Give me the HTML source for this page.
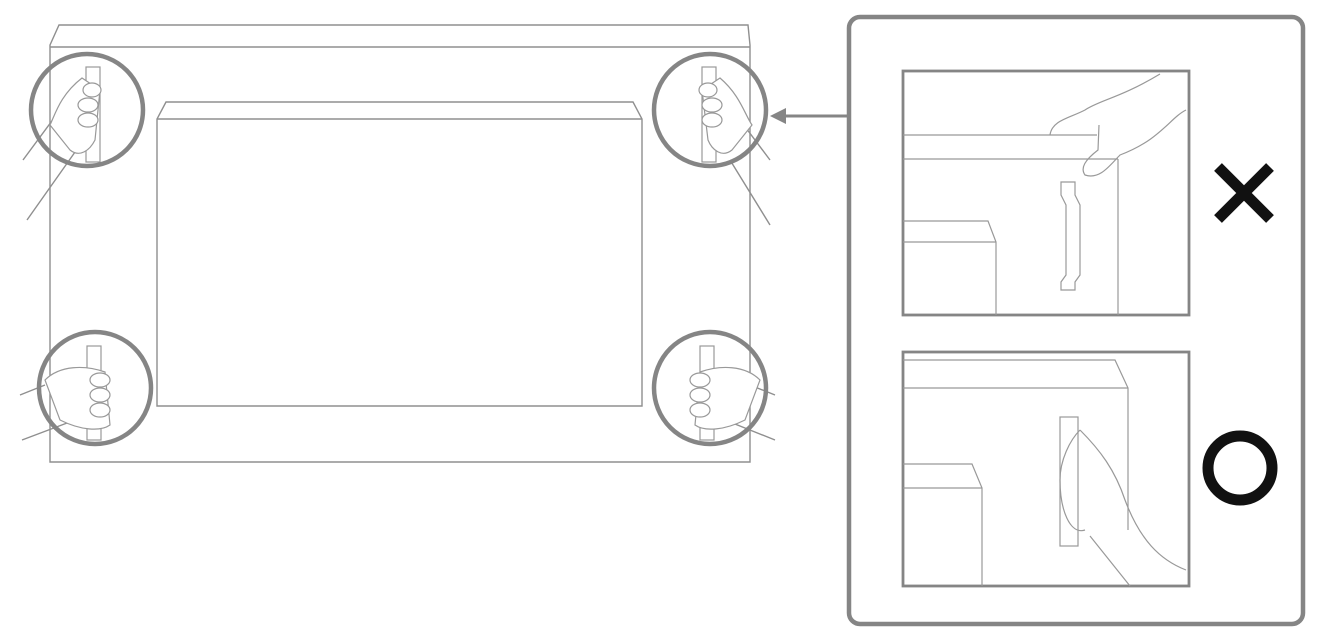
<!DOCTYPE html>
<html><head><meta charset="utf-8"><style>
html,body{margin:0;padding:0;background:#fff;width:1320px;height:640px;overflow:hidden}
</style></head><body>
<svg width="1320" height="640" viewBox="0 0 1320 640" xmlns="http://www.w3.org/2000/svg">
<g fill="none" stroke="#8f8f8f" stroke-width="1.4">
 <path d="M50,462 V45 L59,25 H748 L750,45 V462 Z"/>
 <path d="M50,47 H750"/>
 <path d="M157,406 V119 L166,102 H633 L642,119 V406 Z"/>
 <path d="M157,119 H642"/>
 <path d="M23,160 L60,110 M27,220 L80,145"/>
 <path d="M770,160 L740,120 M770,225 L730,160"/>
 <path d="M20,395 L45,385 M22,440 L75,420"/>
 <path d="M775,395 L750,385 M775,440 L725,420"/>
</g>
<g fill="#fff" stroke="#999" stroke-width="1.2">
 <rect x="86" y="67" width="14" height="95"/>
 <path d="M82,78 C60,95 55,115 50,125 L70,150 C80,158 90,150 95,140 L100,90 Z"/>
 <ellipse cx="92" cy="90" rx="9" ry="7"/><ellipse cx="88" cy="105" rx="10" ry="7"/><ellipse cx="88" cy="120" rx="10" ry="7"/>
 <rect x="702" y="67" width="14" height="95"/>
 <path d="M720,78 C740,95 745,115 752,125 L732,150 C722,158 712,150 708,140 L702,90 Z"/>
 <ellipse cx="708" cy="90" rx="9" ry="7"/><ellipse cx="712" cy="105" rx="10" ry="7"/><ellipse cx="712" cy="120" rx="10" ry="7"/>
 <rect x="87" y="346" width="14" height="94"/>
 <path d="M45,380 C60,365 85,365 105,372 L110,425 C100,432 80,430 60,420 Z"/>
 <ellipse cx="100" cy="380" rx="10" ry="7"/><ellipse cx="100" cy="395" rx="10" ry="7"/><ellipse cx="100" cy="410" rx="10" ry="7"/>
 <rect x="700" y="346" width="14" height="94"/>
 <path d="M760,380 C745,365 720,365 700,372 L695,425 C705,432 725,430 745,420 Z"/>
 <ellipse cx="700" cy="380" rx="10" ry="7"/><ellipse cx="700" cy="395" rx="10" ry="7"/><ellipse cx="700" cy="410" rx="10" ry="7"/>
</g>
<g fill="none" stroke="#858585" stroke-width="4.5">
 <circle cx="87" cy="110" r="56"/>
 <circle cx="710" cy="110" r="56"/>
 <circle cx="95" cy="388" r="56"/>
 <circle cx="710" cy="388" r="56"/>
 <rect x="849" y="17" width="454" height="607" rx="11"/>
</g>
<path d="M848,116 H785" stroke="#858585" stroke-width="3"/>
<path d="M770,116 L786,108 L786,124 Z" fill="#858585"/>
<g fill="none" stroke="#999" stroke-width="1.2">
 <rect x="903" y="71" width="286" height="244" stroke="#858585" stroke-width="2.8"/>
 <path d="M903,135 H1097 M903,159 H1118 M1118,159 V315"/>
 <path d="M1050,135 C1052,120 1070,118 1085,110 C1100,100 1120,98 1160,74 M1186,110 C1170,118 1160,140 1120,155 C1110,165 1100,180 1085,175 C1080,168 1085,160 1098,150 L1099,125"/>
 <path d="M903,221 H988 L996,242 V315 M903,242 H996"/>
 <path d="M1061,182 H1075 V195 L1080,205 V275 L1075,282 V290 H1061 V282 L1066,275 V205 L1061,195 Z"/>
 <rect x="903" y="352" width="286" height="234" stroke="#858585" stroke-width="2.8"/>
 <path d="M903,360 H1115 L1128,388 V530 M903,388 H1128"/>
 <path d="M903,464 H972 L982,488 V586 M903,488 H982"/>
 <rect x="1060" y="417" width="18" height="129"/>
 <path d="M1080,430 C1100,450 1115,470 1125,500 C1140,540 1160,560 1186,570 M1090,536 L1130,586 M1080,430 C1070,440 1060,460 1060,480 C1060,510 1070,535 1085,530"/>
</g>
<path d="M1218,167 L1270,219 M1270,167 L1218,219" stroke="#111" stroke-width="11"/>
<circle cx="1240" cy="468" r="32" fill="none" stroke="#111" stroke-width="11"/>
</svg>
</body></html>
